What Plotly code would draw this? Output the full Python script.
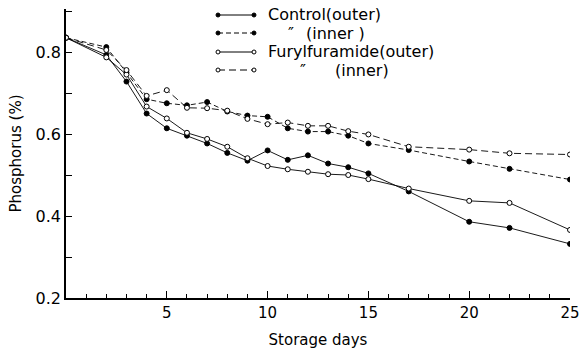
import plotly.graph_objects as go

days = [0, 2, 3, 4, 5, 6, 7, 8, 9, 10, 11, 12, 13, 14, 15, 17, 20, 22, 25]
control_outer = [0.835, 0.793, 0.728, 0.650, 0.614, 0.596, 0.577, 0.554, 0.535, 0.560, 0.537, 0.548, 0.528, 0.519, 0.504, 0.460, 0.386, 0.371, 0.332]
control_inner = [0.835, 0.812, 0.750, 0.685, 0.675, 0.670, 0.678, 0.655, 0.645, 0.642, 0.614, 0.606, 0.606, 0.596, 0.577, 0.561, 0.533, 0.515, 0.489]
furyl_outer = [0.835, 0.787, 0.745, 0.667, 0.638, 0.603, 0.588, 0.569, 0.541, 0.522, 0.514, 0.508, 0.502, 0.500, 0.490, 0.467, 0.437, 0.432, 0.366]
furyl_inner = [0.835, 0.805, 0.756, 0.693, 0.707, 0.664, 0.663, 0.657, 0.637, 0.624, 0.628, 0.620, 0.620, 0.607, 0.599, 0.569, 0.562, 0.553, 0.550]

legend_names = [("Control(outer)", None), ("″", "(inner )"), ("Furylfuramide(outer)", None), ("″", "(inner)")]

FONT = "DejaVu Sans"
series = [
    (control_outer, "solid", "black", "circle"),
    (control_inner, "5px,3px", "black", "circle"),
    (furyl_outer, "solid", "white", "circle"),
    (furyl_inner, "7px,4px", "white", "circle"),
]

fig = go.Figure()
for vals, dash, fill, sym in series:
    fig.add_trace(go.Scatter(
        x=days, y=vals, mode="lines+markers",
        line=dict(color="black", width=0.9, dash=dash),
        marker=dict(symbol=sym, size=5, color=fill, line=dict(color="black", width=1)),
        showlegend=False,
    ))

# plot area geometry in pixels
W, H = 581, 352
L, R, T, B = 66, 11, 9, 54
pw, ph = W - L - R, H - T - B

def px(x):
    return (x - L) / pw

def py(y):
    return (H - B - y) / ph

shapes = []
annotations = []
rows_y = [15, 33, 52, 70]
lfont = dict(family=FONT, size=16, color="black")
for i, ((vals, dash, fill, sym), (t1, t2)) in enumerate(zip(series, legend_names)):
    yy = py(rows_y[i])
    shapes.append(dict(type="line", xref="paper", yref="paper", x0=px(218), x1=px(254), y0=yy, y1=yy,
                       line=dict(color="black", width=1, dash=dash)))
    for xe in (218, 254):
        shapes.append(dict(type="circle", xref="paper", yref="paper",
                           x0=px(xe - 2), x1=px(xe + 2), y0=py(rows_y[i] + 2), y1=py(rows_y[i] - 2),
                           fillcolor=fill, line=dict(color="black", width=1)))
    if t2 is None:
        annotations.append(dict(xref="paper", yref="paper", x=px(266), y=yy, text=t1, showarrow=False,
                                xanchor="left", yanchor="middle", font=lfont))
    else:
        dx, tx = (286, 304) if i == 1 else (298, 333)
        annotations.append(dict(xref="paper", yref="paper", x=px(dx), y=yy, text=t1, showarrow=False,
                                xanchor="left", yanchor="middle", font=lfont))
        annotations.append(dict(xref="paper", yref="paper", x=px(tx), y=yy, text=t2, showarrow=False,
                                xanchor="left", yanchor="middle", font=lfont))

fig.update_layout(
    width=W, height=H,
    margin=dict(l=L, r=R, t=T, b=B),
    paper_bgcolor="white", plot_bgcolor="white",
    font=dict(family=FONT, size=14, color="black"),
    shapes=shapes, annotations=annotations,
    xaxis=dict(
        range=[0, 25], showgrid=False, zeroline=False, showline=True, linecolor="black", linewidth=1.5,
        automargin=False,
        tickmode="array", tickvals=[5, 10, 15, 20, 25], ticks="inside", ticklen=7, tickcolor="black",
        minor=dict(tickmode="array", tickvals=list(range(1, 25)), ticks="inside", ticklen=4, tickcolor="black"),
        title=dict(text="Storage days", font=dict(size=15), standoff=14),
        tickfont=dict(size=15),
    ),
    yaxis=dict(
        range=[0.2, 0.905], showgrid=False, zeroline=False, showline=True, linecolor="black", linewidth=1.5,
        automargin=False,
        tickmode="array", tickvals=[0.2, 0.4, 0.6, 0.8], ticktext=["0.2", "0.4", "0.6", "0.8"],
        ticks="inside", ticklen=6, tickcolor="black",
        minor=dict(tickmode="array", tickvals=[0.3, 0.5, 0.7, 0.9], ticks="inside", ticklen=6, tickcolor="black"),
        title=dict(text="Phosphorus (%)", font=dict(size=15), standoff=10),
        tickfont=dict(size=16),
    ),
)

fig.write_html("out.html")
